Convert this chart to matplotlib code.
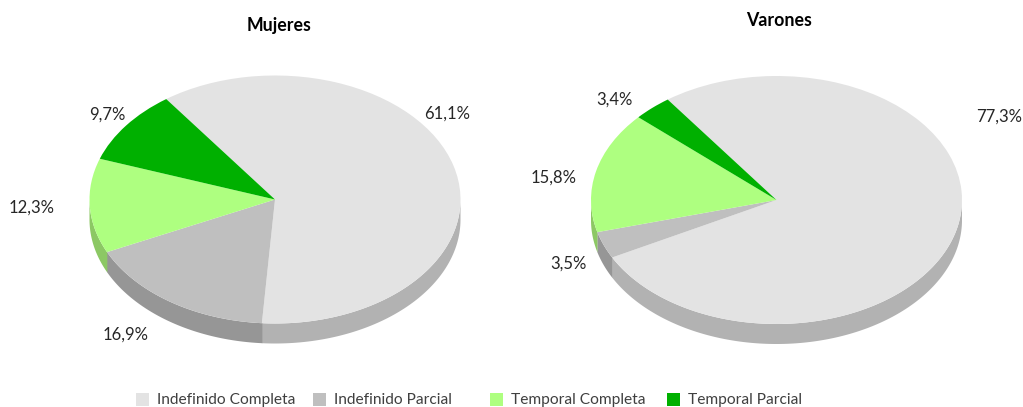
import numpy as np
import matplotlib
matplotlib.use("Agg")
import matplotlib.pyplot as plt
from matplotlib.patches import Rectangle

plt.rcParams['font.family'] = ['Lato', 'DejaVu Sans']

categories = ["Indefinido Completa", "Indefinido Parcial", "Temporal Completa", "Temporal Parcial"]
mujeres = [61.1, 16.9, 12.3, 9.7]
varones = [77.3, 3.5, 15.8, 3.4]
mujeres_labels = ["61,1%", "16,9%", "12,3%", "9,7%"]
varones_labels = ["77,3%", "3,5%", "15,8%", "3,4%"]

top_colors = ["#E3E3E3", "#BFBFBF", "#AEFF80", "#00B000"]
wall_colors = ["#B2B2B2", "#969696", "#8CC864", "#008A00"]

W, H = 1023, 407
fig = plt.figure(figsize=(W / 100, H / 100), dpi=100)


def draw_pie(values, cx, cy, rx, ry, depth=20):
    ax = fig.add_axes([(cx - rx) / W, 1 - (cy + ry) / H, 2 * rx / W, 2 * ry / H])
    wedges, _ = ax.pie(values, colors=top_colors, startangle=125.9, counterclock=False,
                       radius=1, wedgeprops={"linewidth": 0, "zorder": 3})
    ax.set_aspect("auto")
    ax.set_xlim(-1, 1)
    ax.set_ylim(-1, 1)
    for w in wedges:
        w.set_clip_on(False)

    # side wall, only the part of each slice facing the viewer
    d = depth / ry
    edges = 125.9 - np.cumsum([0] + values) * 3.6
    for i in range(len(values)):
        a = np.arange(edges[i + 1], edges[i] + 0.25, 0.25)
        a = np.radians(a)
        a = a[np.sin(a) <= 0]
        if len(a) < 2:
            continue
        x = np.cos(a)
        y = np.sin(a)
        ax.fill(np.r_[x, x[::-1]], np.r_[y, y[::-1] - d], color=wall_colors[i],
                linewidth=0, zorder=2, clip_on=False)


def px_text(x, y, s, color="#262626", **kw):
    fig.text(x / W, 1 - y / H, s, va="center", color=color, **kw)


draw_pie(mujeres, 275, 199.5, 185.5, 124)
draw_pie(varones, 776.5, 200, 185.5, 124)

px_text(279.5, 25, "Mujeres", ha="center", fontsize=12.8, fontweight="bold", color="black")
px_text(779.5, 21, "Varones", ha="center", fontsize=12.8, fontweight="bold", color="black")

# pie labels, same order as the values
for (x, y), s in zip([(447, 114), (126, 335), (32, 208), (107, 115)], mujeres_labels):
    px_text(x, y, s, ha="center", fontsize=12)
for (x, y), s in zip([(999, 117), (568, 264), (554, 178), (614, 100)], varones_labels):
    px_text(x, y, s, ha="center", fontsize=12)

# legend with fixed column spacing
for i, name in enumerate(categories):
    x0 = 136 + 177 * i
    fig.add_artist(Rectangle((x0 / W, 1 - 406 / H), 13 / W, 13 / H, color=top_colors[i],
                             transform=fig.transFigure, linewidth=0))
    px_text(x0 + 21, 400, name, ha="left", fontsize=11.2, color="#404040")

fig.savefig("out.png", dpi=100)
